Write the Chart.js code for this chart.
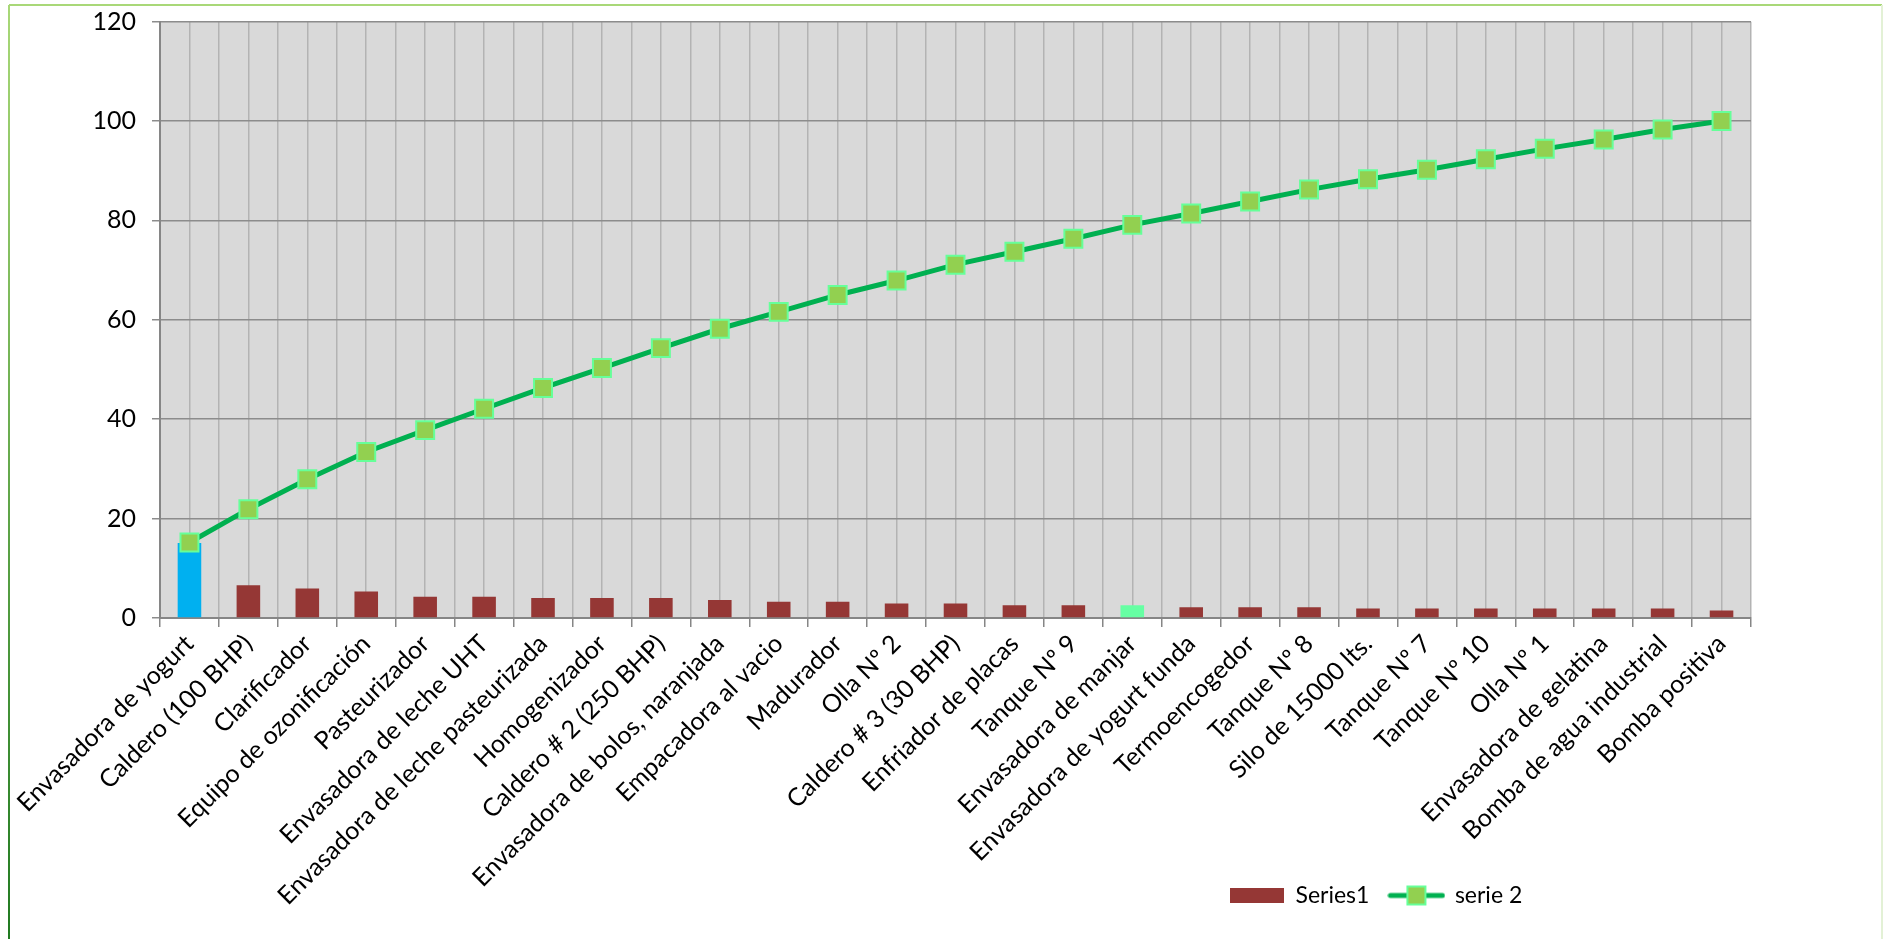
<!DOCTYPE html>
<html>
<head>
<meta charset="utf-8">
<script src="https://cdn.jsdelivr.net/npm/chart.js@4/dist/chart.umd.min.js"></script>
<style>
  html, body { margin: 0; padding: 0; background: #fff; }
  #wrap { width: 1883px; height: 939px; position: relative; }
</style>
</head>
<body>
<div id="wrap"><canvas id="pareto"></canvas></div>
<script>
const categorias = [
  'Envasadora de yogurt', 'Caldero (100 BHP)', 'Clarificador', 'Equipo de ozonificación',
  'Pasteurizador', 'Envasadora de leche UHT', 'Envasadora de leche pasteurizada', 'Homogenizador',
  'Caldero # 2 (250 BHP)', 'Envasadora de bolos, naranjada', 'Empacadora al vacio', 'Madurador',
  'Olla Nº 2', 'Caldero # 3 (30 BHP)', 'Enfriador de placas', 'Tanque Nº 9',
  'Envasadora de manjar', 'Envasadora de yogurt funda', 'Termoencogedor', 'Tanque Nº 8',
  'Silo de 15000 lts.', 'Tanque Nº 7', 'Tanque Nº 10', 'Olla Nº 1',
  'Envasadora de gelatina', 'Bomba de agua industrial', 'Bomba positiva'
];
const serie1 = [15.1, 6.6, 5.95, 5.35, 4.3, 4.3, 4.0, 4.0, 4.0, 3.6, 3.25, 3.25, 2.9, 2.9,
  2.55, 2.55, 2.55, 2.15, 2.15, 2.15, 1.9, 1.9, 1.9, 1.9, 1.9, 1.9, 1.5];
const serie2 = [15.2, 21.9, 27.9, 33.4, 37.8, 42.1, 46.3, 50.3, 54.3, 58.2, 61.6, 65.0, 67.9, 71.1,
  73.7, 76.3, 79.1, 81.4, 83.8, 86.2, 88.3, 90.2, 92.3, 94.4, 96.3, 98.3, 100];
const yMin = 0, yMax = 120, yPaso = 20;

const ROJO = '#953735', AZUL = '#00B0F0', MENTA = '#66FFA3';
const VERDE = '#00B050', MARCA = '#92D050', MARCA_BORDE = '#66FF99';
const FUENTE = 'Lato, Carlito, Calibri, sans-serif';

const coloresBarras = categorias.map((c, i) =>
  i === 0 ? AZUL : (c === 'Envasadora de manjar' ? MENTA : ROJO));

// símbolo de leyenda: línea con marcador cuadrado
const marcaLeyenda = document.createElement('canvas');
marcaLeyenda.width = 58; marcaLeyenda.height = 22;
(function () {
  const c = marcaLeyenda.getContext('2d');
  c.strokeStyle = VERDE; c.lineWidth = 5; c.lineCap = 'round';
  c.beginPath(); c.moveTo(3, 11); c.lineTo(55, 11); c.stroke();
  c.fillStyle = MARCA; c.fillRect(20, 2, 18, 18);
  c.strokeStyle = MARCA_BORDE; c.lineWidth = 2; c.strokeRect(20, 2, 18, 18);
})();

const fondo = {
  id: 'fondo',
  beforeDraw(chart) {
    const { ctx, chartArea: a, width, height } = chart;
    ctx.save();
    ctx.fillStyle = '#fff';
    ctx.fillRect(0, 0, width, height);
    ctx.fillStyle = '#D9D9D9';
    ctx.fillRect(a.left, a.top, a.right - a.left, a.bottom - a.top);
    ctx.lineWidth = 2;
    ctx.strokeStyle = '#A9D878';
    ctx.beginPath(); ctx.moveTo(9, 5); ctx.lineTo(1882, 5); ctx.stroke();
    const g = ctx.createLinearGradient(0, 5, 0, height);
    g.addColorStop(0, '#A9D878'); g.addColorStop(1, '#217A21');
    ctx.strokeStyle = g;
    ctx.beginPath(); ctx.moveTo(9, 5); ctx.lineTo(9, height); ctx.stroke();
    ctx.strokeStyle = '#E3F1D6';
    ctx.beginPath(); ctx.moveTo(1882, 5); ctx.lineTo(1882, height); ctx.stroke();
    ctx.restore();
  },
  afterLayout(chart) {
    // la leyenda va abajo a la derecha, como en Excel
    const lg = chart.legend;
    const pad = lg.options.labels.padding;
    const x0 = (lg.left + pad + lg.right - lg.lineWidths[0]) / 2;
    const dx = 1230 - x0;
    const dy = 864 - lg.top;
    lg.left += dx; lg.right += dx;
    lg.top += dy; lg.bottom += dy;
  }
};

new Chart(document.getElementById('pareto'), {
  data: {
    labels: categorias,
    datasets: [
      {
        type: 'bar', label: 'Series1', data: serie1, order: 1,
        backgroundColor: coloresBarras, borderWidth: 0,
        barPercentage: 0.4, categoryPercentage: 1
      },
      {
        type: 'line', label: 'serie 2', data: serie2, order: 0,
        borderColor: VERDE, borderWidth: 5, tension: 0,
        pointStyle: 'rect', pointRadius: 12.7, pointBorderWidth: 2,
        pointBackgroundColor: MARCA, pointBorderColor: MARCA_BORDE
      }
    ]
  },
  options: {
    responsive: true,
    maintainAspectRatio: false,
    animation: false,
    layout: { padding: { top: 5, left: 0, right: 132, bottom: -37 } },
    plugins: {
      tooltip: { enabled: false },
      legend: {
        position: 'bottom',
        labels: {
          color: '#000',
          font: { family: FUENTE, size: 23 },
          usePointStyle: true,
          pointStyleWidth: 54,
          boxHeight: 15,
          padding: 20,
          sort: (a, b) => a.datasetIndex - b.datasetIndex,
          generateLabels(chart) {
            const items = Chart.defaults.plugins.legend.labels.generateLabels(chart);
            items.forEach((it) => {
              if (it.datasetIndex === 0) {
                it.fillStyle = ROJO; it.strokeStyle = ROJO; it.lineWidth = 0; it.pointStyle = 'rect';
              } else {
                it.pointStyle = marcaLeyenda;
              }
            });
            return items;
          }
        }
      }
    },
    scales: {
      x: {
        type: 'category',
        offset: true,
        grid: { offset: true, color: '#B3B3B3', lineWidth: 1.5, tickColor: '#868686', tickLength: 9 },
        border: { color: '#868686', width: 2 },
        ticks: {
          autoSkip: false, maxRotation: 45, minRotation: 45, padding: 2,
          color: '#000', font: { family: FUENTE, size: 25 }
        },
        afterFit(s) { s.height = 305; }
      },
      x2: {
        type: 'category',
        position: 'bottom',
        offset: true,
        grid: { offset: false, color: '#B3B3B3', lineWidth: 1.5, drawTicks: false },
        border: { display: false },
        ticks: { display: false },
        afterFit(s) { s.height = 0; }
      },
      y: {
        min: yMin, max: yMax,
        ticks: { stepSize: yPaso, padding: 16, color: '#000', font: { family: FUENTE, size: 25, lineHeight: 0.45 } },
        grid: { color: '#8C8C8C', lineWidth: 1.5, tickLength: 8 },
        border: { color: '#868686', width: 2 },
        afterFit(s) { s.width = 160; }
      }
    }
  },
  plugins: [fondo]
});
</script>
</body>
</html>
